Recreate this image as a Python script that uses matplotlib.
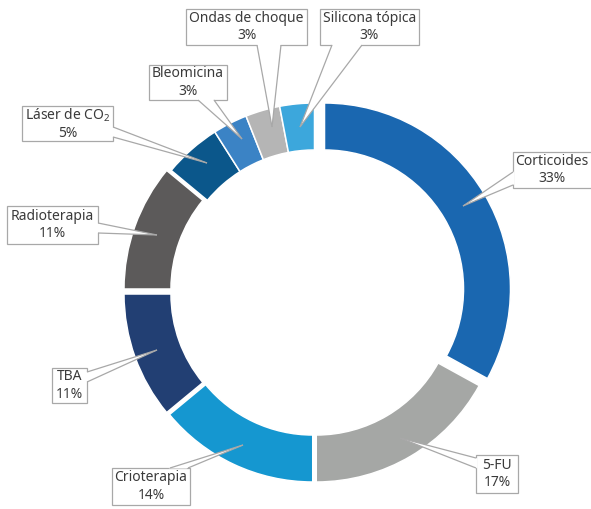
import matplotlib
matplotlib.use("Agg")
import matplotlib.pyplot as plt
from matplotlib.patches import Rectangle, Polygon
import numpy as np

# Data
labels = ["Corticoides", "5-FU", "Crioterapia", "TBA", "Radioterapia",
          "Láser de CO$_2$", "Bleomicina", "Ondas de choque", "Silicona tópica"]
shares = [33, 17, 14, 11, 11, 5, 3, 3, 3]

# Styling
colors = ["#1a67b0", "#a5a7a5", "#1597d0", "#223f73", "#5c5a5a",
          "#0b578b", "#3b83c5", "#b5b5b5", "#3ca7dc"]
# per-slice displacement in pixels (dx right, dy down)
offsets = [(10, 0), (1.75, 7), (-1.75, 7), (-4.5, 5), (-4.5, 0),
           (0, 0), (0, 0), (0, 0), (0, 0)]
# callout boxes (x0, y0, x1, y1), pointer base points and tip, in pixels from top-left
boxes = [(513, 152, 600, 188), (476, 455, 518, 493), (112, 468, 190, 505),
         (52, 368, 87, 403), (7, 206, 98, 244), (22, 106, 113, 141),
         (149, 65, 227, 100), (186, 9, 307, 45), (320, 9, 419, 45)]
bases = [((513, 172), (513, 185)), ((476, 458), (476, 468)), ((170, 468), (188, 468)),
         ((87, 372), (87, 382)), ((98, 223), (98, 233)), ((113, 127), (113, 137)),
         ((198, 100), (214, 100)), ((257, 45), (281, 45)), ((332, 45), (362, 45))]
tips = [(463, 206), (400, 438), (243, 445), (157, 350), (157, 235),
        (207, 163), (242, 139), (272, 127), (300, 127)]

W, H = 591, 509
plt.rcParams['font.family'] = ['Noto Sans', 'DejaVu Sans']
plt.rcParams['mathtext.default'] = 'regular'

fig = plt.figure(figsize=(W / 100, H / 100), dpi=100)
ax = fig.add_axes([0, 0, 1, 1])

cx, cy, R, ring = 314.5, 289, 186, 47
wedges, _ = ax.pie(shares, colors=colors, startangle=90, counterclock=False,
                   radius=R, center=(cx, H - cy), frame=True,
                   wedgeprops=dict(width=ring, edgecolor="white", linewidth=1.1))
for w, (dx, dy) in zip(wedges, offsets):
    w.set_center((cx + dx, H - cy - dy))

ax.set_xlim(0, W)
ax.set_ylim(0, H)
ax.set_aspect("equal")
ax.axis("off")

edge = "#a8a8a8"
text_color = "#3a3a3a"
for lab, val, (x0, y0, x1, y1), (b1, b2), tip in zip(labels, shares, boxes, bases, tips):
    ax.add_patch(Rectangle((x0, H - y1), x1 - x0, y1 - y0, facecolor="white",
                           edgecolor=edge, linewidth=0.9, zorder=3))
    mid = np.array([(b1[0] + b2[0]) / 2, (b1[1] + b2[1]) / 2])
    d = mid - np.array(tip)
    d = d / np.hypot(*d)
    p1 = np.array(b1) + 1.6 * d
    p2 = np.array(b2) + 1.6 * d
    poly = [(p1[0], H - p1[1]), (tip[0], H - tip[1]), (p2[0], H - p2[1])]
    ax.add_patch(Polygon(poly, closed=True, facecolor="white", edgecolor="none", zorder=4))
    for b in (b1, b2):
        ax.plot([b[0], tip[0]], [H - b[1], H - tip[1]], color=edge, lw=0.9,
                zorder=5, solid_capstyle="butt")
    ax.text((x0 + min(x1, W)) / 2 if x1 <= W else (x0 + 590) / 2, H - (y0 + y1) / 2,
            f"{lab}\n{val}%", ha="center", va="center", fontsize=10,
            color=text_color, linespacing=1.2, zorder=6)

fig.savefig("out.png", dpi=100)
